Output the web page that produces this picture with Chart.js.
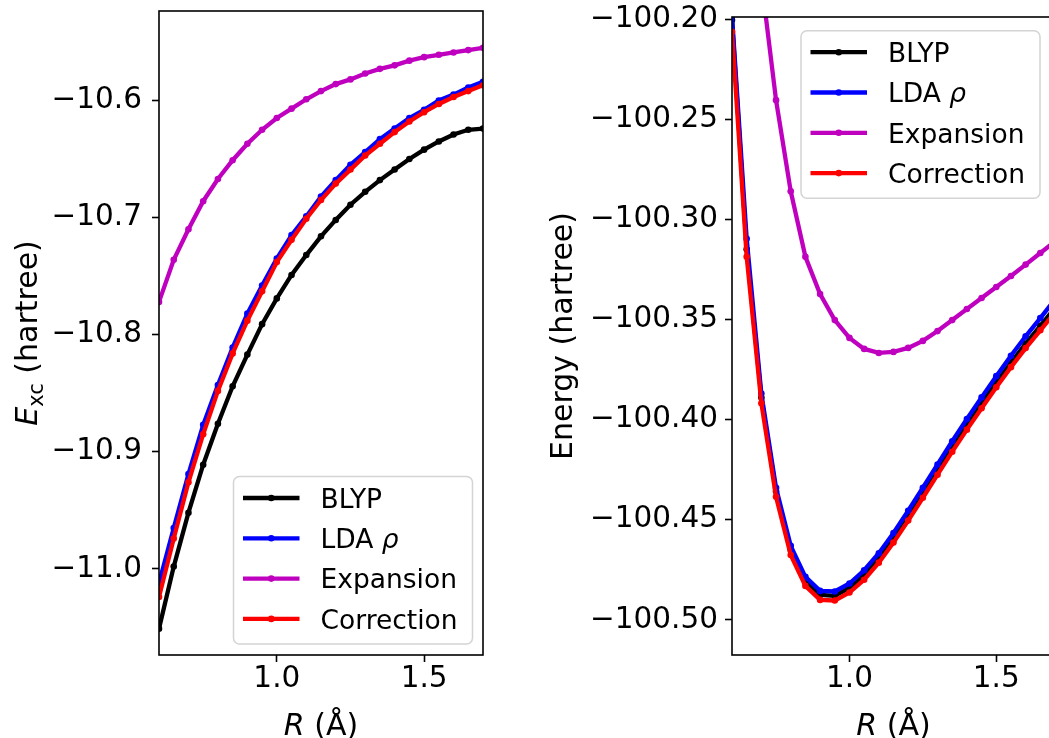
<!DOCTYPE html>
<html>
<head>
<meta charset="utf-8">
<script src="https://cdn.jsdelivr.net/npm/chart.js@4.4.1/dist/chart.umd.min.js"></script>
<style>
  html, body { margin: 0; padding: 0; background: #fff; }
  #wrap { position: relative; width: 1049px; height: 738px; overflow: hidden; }
  canvas { position: absolute; top: 0; }
  #excChart { left: 0; }
  #energyChart { left: 530px; }
</style>
</head>
<body>
<div id="wrap">
  <canvas id="excChart" width="530" height="738"></canvas>
  <canvas id="energyChart" width="560" height="738"></canvas>
</div>
<script>
// ================= DATA =================
const bondLengths = [0.60, 0.65, 0.70, 0.75, 0.80, 0.85, 0.90, 0.95, 1.00, 1.05, 1.10, 1.15,
                     1.20, 1.25, 1.30, 1.35, 1.40, 1.45, 1.50, 1.55, 1.60, 1.65, 1.70];

const seriesLabels = ["BLYP", "LDA ρ", "Expansion", "Correction"];
const seriesColors = ["#000000", "#0000ff", "#bf00bf", "#ff0000"];

// exchange-correlation energy (hartree)
const excBlyp = [-11.051, -10.998, -10.952, -10.911, -10.876, -10.844, -10.817, -10.791, -10.769, -10.749, -10.732, -10.716,
                 -10.702, -10.689, -10.678, -10.668, -10.659, -10.650, -10.642, -10.635, -10.629, -10.625, -10.624];
const excLda = [-11.012, -10.965, -10.919, -10.877, -10.843, -10.811, -10.782, -10.758, -10.735, -10.715, -10.699, -10.682,
                -10.668, -10.655, -10.644, -10.633, -10.624, -10.615, -10.608, -10.600, -10.595, -10.589, -10.584];
const excExpansion = [-10.772, -10.736, -10.710, -10.686, -10.667, -10.651, -10.637, -10.625, -10.615, -10.607, -10.599, -10.592,
                      -10.586, -10.582, -10.577, -10.573, -10.570, -10.566, -10.563, -10.561, -10.559, -10.557, -10.555];
const excCorrection = [-11.024, -10.974, -10.926, -10.885, -10.848, -10.816, -10.788, -10.763, -10.738, -10.719, -10.701, -10.685,
                       -10.671, -10.659, -10.647, -10.637, -10.627, -10.618, -10.610, -10.603, -10.597, -10.592, -10.587];

// total energy (hartree)
const energyBlyp = [-100.2005, -100.3150, -100.3890, -100.4358, -100.4650, -100.4805, -100.4875, -100.4880, -100.4840, -100.4777,
                    -100.4692, -100.4592, -100.4482, -100.4368, -100.4253, -100.4138, -100.4028, -100.3921, -100.3816, -100.3716,
                    -100.3621, -100.3532, -100.3442];
const energyLda = [-100.1985, -100.3097, -100.3870, -100.4340, -100.4630, -100.4785, -100.4855, -100.4858, -100.4818, -100.4752,
                   -100.4667, -100.4566, -100.4455, -100.4340, -100.4224, -100.4108, -100.3997, -100.3889, -100.3783, -100.3681,
                   -100.3584, -100.3493, -100.3400];
const energyExpansion = [-100.0300, -100.1100, -100.1806, -100.2405, -100.2860, -100.3187, -100.3373, -100.3503, -100.3592, -100.3647,
                         -100.3667, -100.3662, -100.3642, -100.3607, -100.3558, -100.3503, -100.3448, -100.3393, -100.3338, -100.3283,
                         -100.3226, -100.3168, -100.3111];
const energyCorrection = [-100.2064, -100.3187, -100.3918, -100.4385, -100.4676, -100.4830, -100.4900, -100.4903, -100.4863, -100.4799,
                          -100.4714, -100.4614, -100.4504, -100.4390, -100.4275, -100.4160, -100.4050, -100.3943, -100.3838, -100.3738,
                          -100.3643, -100.3554, -100.3464];

const rTicks = [1.0, 1.5];
const excTicks = [-11.0, -10.9, -10.8, -10.7, -10.6];
const energyTicks = [-100.50, -100.45, -100.40, -100.35, -100.30, -100.25, -100.20];

const FONT = '"DejaVu Sans"';

// ================= TEXT HELPERS =================
// draws a run of text pieces (italic / subscript) starting at x, or centred on x
function drawRich(ctx, parts, x, y, size, align) {
  const fontOf = p => `${p.italic ? "italic " : ""}${p.sub ? size * 0.7 : size}px ${FONT}`;
  let total = 0;
  parts.forEach(p => { ctx.font = fontOf(p); total += ctx.measureText(p.t).width; });
  let cx = align === "center" ? x - total / 2 : x;
  ctx.textAlign = "left";
  ctx.textBaseline = "alphabetic";
  parts.forEach(p => {
    ctx.font = fontOf(p);
    ctx.fillText(p.t, cx, p.sub ? y + size * 0.2 : y);
    cx += ctx.measureText(p.t).width;
  });
}

function labelParts(label) {
  return label.split(/(ρ)/).filter(s => s).map(s => ({ t: s, italic: s === "ρ" }));
}

// ================= FRAME / LEGEND / TITLES =================
const decorations = {
  id: "decorations",
  afterDraw(chart, args, opts) {
    const ctx = chart.ctx;
    const a = chart.chartArea;
    ctx.save();

    // all four spines
    ctx.strokeStyle = "#000";
    ctx.lineWidth = 1.6;
    ctx.strokeRect(a.left, a.top, a.right - a.left, a.bottom - a.top);

    // axis titles
    ctx.fillStyle = "#000";
    drawRich(ctx, opts.xTitle, (a.left + a.right) / 2, opts.xTitleBaseline, 30, "center");
    ctx.save();
    ctx.translate(opts.yTitleBaseline, (a.top + a.bottom) / 2);
    ctx.rotate(-Math.PI / 2);
    drawRich(ctx, opts.yTitle, 0, 0, 30, "center");
    ctx.restore();

    // legend box
    const w = 239, h = 167.5;
    const left = a.right - opts.legendRight - w;
    const top = opts.legendCorner === "lower right" ? a.bottom - opts.legendOffset - h : a.top + opts.legendOffset;
    ctx.beginPath();
    ctx.roundRect(left, top, w, h, 6);
    ctx.fillStyle = "rgba(255,255,255,0.8)";
    ctx.fill();
    ctx.strokeStyle = "#d4d4d4";
    ctx.lineWidth = 1.5;
    ctx.stroke();

    chart.data.datasets.forEach((ds, i) => {
      const y = top + 21.5 + i * 40.3;
      ctx.strokeStyle = ds.borderColor;
      ctx.lineWidth = ds.borderWidth;
      ctx.beginPath();
      ctx.moveTo(left + 9.5, y);
      ctx.lineTo(left + 66, y);
      ctx.stroke();
      ctx.fillStyle = ds.borderColor;
      ctx.beginPath();
      ctx.arc(left + 37.75, y, ds.pointRadius, 0, Math.PI * 2);
      ctx.fill();
      ctx.fillStyle = "#000";
      drawRich(ctx, labelParts(ds.label), left + 87, y + 9.7, 26.5, "left");
    });

    ctx.restore();
  }
};

// ================= CHARTS =================
function makeDatasets(series) {
  return series.map((vals, i) => ({
    label: seriesLabels[i],
    data: bondLengths.map((r, j) => ({ x: r, y: vals[j] })),
    borderColor: seriesColors[i],
    backgroundColor: seriesColors[i],
    pointBackgroundColor: seriesColors[i],
    pointBorderWidth: 0,
    pointRadius: 3.3,
    borderWidth: 4.3,
    tension: 0,
    order: series.length - i,
    clip: 0,
  }));
}

function buildChart(canvasId, series, cfg) {
  const tickFont = { family: FONT, size: 29.5 };
  const tickGrid = {
    display: true,
    drawOnChartArea: false,
    drawTicks: true,
    tickLength: 7,
    tickWidth: 1.6,
    tickColor: "#000",
  };

  return new Chart(document.getElementById(canvasId), {
    type: "line",
    data: { datasets: makeDatasets(series) },
    options: {
      responsive: false,
      animation: false,
      events: [],
      layout: { padding: { left: 0, top: cfg.top, right: cfg.right, bottom: 0 } },
      scales: {
        x: {
          type: "linear",
          min: 0.6,
          max: 1.7,
          afterBuildTicks: s => { s.ticks = rTicks.map(v => ({ value: v })); },
          afterFit: s => { s.height = 83; s.paddingLeft = 0; s.paddingRight = 0; },
          ticks: { font: tickFont, color: "#000", padding: 0, maxRotation: 0, callback: v => v.toFixed(1) },
          grid: tickGrid,
          border: { display: false },
        },
        y: {
          type: "linear",
          min: cfg.yMin,
          max: cfg.yMax,
          afterBuildTicks: s => { s.ticks = cfg.yTicks.map(v => ({ value: v })); },
          afterFit: s => { s.width = cfg.yWidth; s.paddingTop = 0; s.paddingBottom = 0; },
          ticks: {
            font: tickFont,
            color: "#000",
            padding: cfg.yPad,
            callback: v => "\u2212" + Math.abs(v).toFixed(cfg.decimals),
          },
          grid: tickGrid,
          border: { display: false },
        },
      },
      plugins: {
        legend: { display: false },
        tooltip: { enabled: false },
        decorations: cfg.decor,
      },
    },
    plugins: [decorations],
  });
}

buildChart("excChart", [excBlyp, excLda, excExpansion, excCorrection], {
  top: 11, right: 47, yWidth: 159, yPad: 10,
  yMin: -11.0735, yMax: -10.5236, yTicks: excTicks, decimals: 1,
  decor: {
    xTitle: [{ t: "R", italic: true }, { t: " (Å)" }],
    xTitleBaseline: 735,
    yTitle: [{ t: "E", italic: true }, { t: "xc", sub: true }, { t: " (hartree)" }],
    yTitleBaseline: 37,
    legendCorner: "lower right", legendRight: 10.5, legendOffset: 11,
  },
});

buildChart("energyChart", [energyBlyp, energyLda, energyExpansion, energyCorrection], {
  top: 17, right: 35, yWidth: 202, yPad: 7,
  yMin: -100.5175, yMax: -100.199, yTicks: energyTicks, decimals: 2,
  decor: {
    xTitle: [{ t: "R", italic: true }, { t: " (Å)" }],
    xTitleBaseline: 735,
    yTitle: [{ t: "Energy (hartree)" }],
    yTitleBaseline: 42,
    legendCorner: "upper right", legendRight: 15, legendOffset: 13.7,
  },
});
</script>
</body>
</html>
